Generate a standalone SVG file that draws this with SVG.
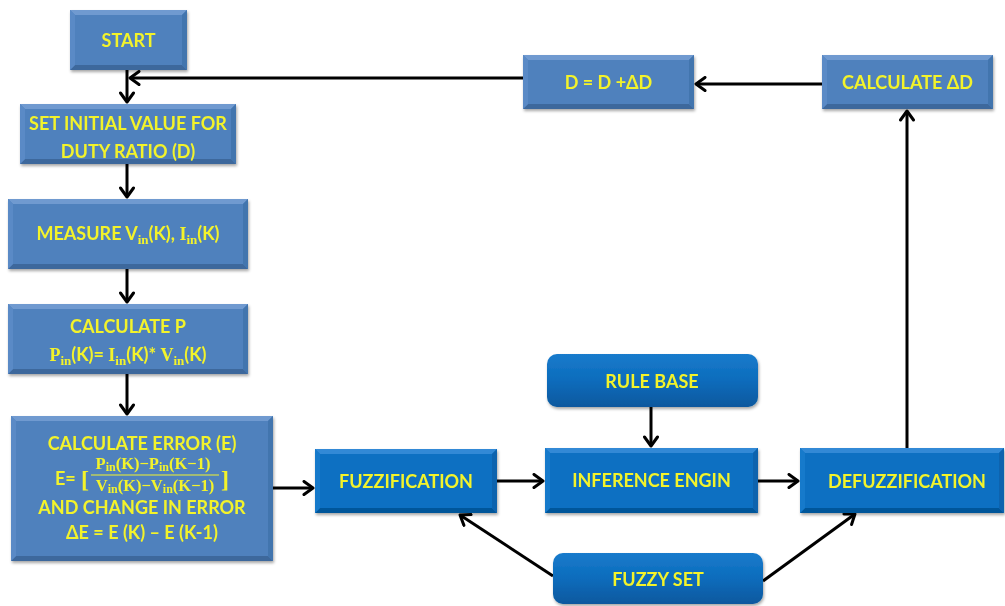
<svg xmlns="http://www.w3.org/2000/svg" width="1005" height="606" viewBox="0 0 1005 606">
<defs>
<style>
.steel .base{fill:#4f81bd}
.steel .t{fill:#6f9ad0}
.steel .l{fill:#5a8ac6}
.steel .r{fill:#4374ae}
.steel .bm{fill:#3c679c}
.bright .base{fill:#0b70c2}
.bright .t{fill:#3189d6}
.bright .l{fill:#187acb}
.bright .r{fill:#0863ae}
.bright .bm{fill:#06569a}
.node{filter:url(#sh)}
.rnd{fill:url(#rg)}
text{font-family:Lato,"Liberation Sans",sans-serif;font-weight:bold;font-size:18px;fill:#f3f32c;text-anchor:middle}
.m{font-family:"Liberation Serif",serif;font-weight:bold}
.sub{font-family:"Liberation Serif",serif;font-weight:bold;font-size:13px}
.fr{font-family:"Liberation Serif",serif;font-weight:bold;font-size:16.5px}
.frs{font-size:12px}
.br{font-family:"Liberation Serif",serif;font-weight:bold;font-size:24px}
.conn path{fill:none;stroke:#000;stroke-width:3;marker-end:url(#ah)}
</style>
<filter id="sh" x="-10%" y="-20%" width="120%" height="150%">
<feDropShadow dx="1" dy="2" stdDeviation="1.5" flood-color="#000" flood-opacity="0.35"/>
</filter>
<linearGradient id="rg" x1="0" y1="0" x2="0" y2="1">
<stop offset="0" stop-color="#1a7bcc"/>
<stop offset="0.5" stop-color="#0a6cbc"/>
<stop offset="1" stop-color="#07589e"/>
</linearGradient>
<marker id="ah" markerUnits="userSpaceOnUse" viewBox="0 0 16 16" markerWidth="16" markerHeight="16" refX="14" refY="8" orient="auto">
<path d="M5,1.5 L14,8 L5,14.5" fill="none" stroke="#000" stroke-width="3" stroke-linecap="round" stroke-linejoin="round"/>
</marker>
</defs>
<rect width="1005" height="606" fill="#ffffff"/>

<g id="connectors" class="conn">
<path d="M127,70 V102"/>
<path d="M523,78 H130"/>
<path d="M127,164 V197"/>
<path d="M127,269 V302"/>
<path d="M127,374 V414"/>
<path d="M273,488 H313"/>
<path d="M497,481 H543"/>
<path d="M758,481 H798"/>
<path d="M651,407 V446"/>
<path d="M553,576 L460,515"/>
<path d="M763,581 L855,514"/>
<path d="M907,448 V111"/>
<path d="M822,84 H696"/>
</g>

<g id="start" class="node steel">
<rect class="base" x="70" y="10" width="117" height="60"/>
<polygon class="t" points="70,10 187,10 182,15 75,15"/>
<polygon class="bm" points="70,70 187,70 182,65 75,65"/>
<polygon class="l" points="70,10 75,15 75,65 70,70"/>
<polygon class="r" points="187,10 182,15 182,65 187,70"/>
<text x="128.5" y="47">START</text>
</g>

<g id="set-initial" class="node steel">
<rect class="base" x="20" y="104" width="216" height="60"/>
<polygon class="t" points="20,104 236,104 231,109 25,109"/>
<polygon class="bm" points="20,164 236,164 231,159 25,159"/>
<polygon class="l" points="20,104 25,109 25,159 20,164"/>
<polygon class="r" points="236,104 231,109 231,159 236,164"/>
<text x="128" y="130">SET INITIAL VALUE FOR</text>
<text x="128" y="158">DUTY RATIO (D)</text>
</g>

<g id="measure" class="node steel">
<rect class="base" x="8" y="199" width="240" height="70"/>
<polygon class="t" points="8,199 248,199 243,204 13,204"/>
<polygon class="bm" points="8,269 248,269 243,264 13,264"/>
<polygon class="l" points="8,199 13,204 13,264 8,269"/>
<polygon class="r" points="248,199 243,204 243,264 248,269"/>
<text x="128" y="240">MEASURE V<tspan class="sub" dy="4">in</tspan><tspan dy="-4">(K), </tspan><tspan class="m">I</tspan><tspan class="sub" dy="4">in</tspan><tspan dy="-4">(K)</tspan></text>
</g>

<g id="calc-p" class="node steel">
<rect class="base" x="8" y="304" width="240" height="70"/>
<polygon class="t" points="8,304 248,304 243,309 13,309"/>
<polygon class="bm" points="8,374 248,374 243,369 13,369"/>
<polygon class="l" points="8,304 13,309 13,369 8,374"/>
<polygon class="r" points="248,304 243,309 243,369 248,374"/>
<text x="128" y="333">CALCULATE P</text>
<text x="128" y="361"><tspan class="m">P</tspan><tspan class="sub" dy="4">in</tspan><tspan dy="-4">(K)= </tspan><tspan class="m">I</tspan><tspan class="sub" dy="4">in</tspan><tspan dy="-4">(K)* </tspan><tspan class="m">V</tspan><tspan class="sub" dy="4">in</tspan><tspan dy="-4">(K)</tspan></text>
</g>

<g id="calc-error" class="node steel">
<rect class="base" x="11" y="416" width="262" height="145"/>
<polygon class="t" points="11,416 273,416 268,421 16,421"/>
<polygon class="bm" points="11,561 273,561 268,556 16,556"/>
<polygon class="l" points="11,416 16,421 16,556 11,561"/>
<polygon class="r" points="273,416 268,421 268,556 273,561"/>
<text x="142" y="450">CALCULATE ERROR (E)</text>
<text x="55" y="485" style="text-anchor:start">E=</text>
<text class="br" x="85" y="487">[</text>
<text class="fr" x="153" y="469">P<tspan class="frs" dy="2">in</tspan><tspan dy="-2">(K)−P</tspan><tspan class="frs" dy="2">in</tspan><tspan dy="-2">(K−1)</tspan></text>
<line x1="91" y1="475" x2="219" y2="475" stroke="#f3f32c" stroke-width="1.2"/>
<text class="fr" x="155" y="491">V<tspan class="frs" dy="2">in</tspan><tspan dy="-2">(K)−V</tspan><tspan class="frs" dy="2">in</tspan><tspan dy="-2">(K−1)</tspan></text>
<text class="br" x="225" y="487">]</text>
<text x="142" y="514">AND CHANGE IN ERROR</text>
<text x="142" y="539">ΔE = E (K) – E (K-1)</text>
</g>

<g id="fuzzification" class="node bright">
<rect class="base" x="315" y="449" width="182" height="64"/>
<polygon class="t" points="315,449 497,449 492,454 320,454"/>
<polygon class="bm" points="315,513 497,513 492,508 320,508"/>
<polygon class="l" points="315,449 320,454 320,508 315,513"/>
<polygon class="r" points="497,449 492,454 492,508 497,513"/>
<text x="406" y="488">FUZZIFICATION</text>
</g>

<g id="inference" class="node bright">
<rect class="base" x="545" y="448" width="213" height="65"/>
<polygon class="t" points="545,448 758,448 753,453 550,453"/>
<polygon class="bm" points="545,513 758,513 753,508 550,508"/>
<polygon class="l" points="545,448 550,453 550,508 545,513"/>
<polygon class="r" points="758,448 753,453 753,508 758,513"/>
<text x="651.5" y="487">INFERENCE ENGIN</text>
</g>

<g id="defuzzification" class="node bright">
<rect class="base" x="800" y="448" width="204" height="65"/>
<polygon class="t" points="800,448 1004,448 999,453 805,453"/>
<polygon class="bm" points="800,513 1004,513 999,508 805,508"/>
<polygon class="l" points="800,448 805,453 805,508 800,513"/>
<polygon class="r" points="1004,448 999,453 999,508 1004,513"/>
<text x="907" y="488">DEFUZZIFICATION</text>
</g>

<g id="rule-base" class="node">
<rect class="rnd" x="547" y="354" width="211" height="53" rx="10"/>
<text x="652" y="388">RULE BASE</text>
</g>

<g id="fuzzy-set" class="node">
<rect class="rnd" x="553" y="553" width="210" height="51" rx="10"/>
<text x="658" y="586">FUZZY SET</text>
</g>

<g id="d-update" class="node steel">
<rect class="base" x="523" y="55" width="171" height="54"/>
<polygon class="t" points="523,55 694,55 689,60 528,60"/>
<polygon class="bm" points="523,109 694,109 689,104 528,104"/>
<polygon class="l" points="523,55 528,60 528,104 523,109"/>
<polygon class="r" points="694,55 689,60 689,104 694,109"/>
<text x="608.5" y="89">D = D +ΔD</text>
</g>

<g id="calc-dd" class="node steel">
<rect class="base" x="822" y="55" width="171" height="54"/>
<polygon class="t" points="822,55 993,55 988,60 827,60"/>
<polygon class="bm" points="822,109 993,109 988,104 827,104"/>
<polygon class="l" points="822,55 827,60 827,104 822,109"/>
<polygon class="r" points="993,55 988,60 988,104 993,109"/>
<text x="907.5" y="89">CALCULATE ΔD</text>
</g>
</svg>
